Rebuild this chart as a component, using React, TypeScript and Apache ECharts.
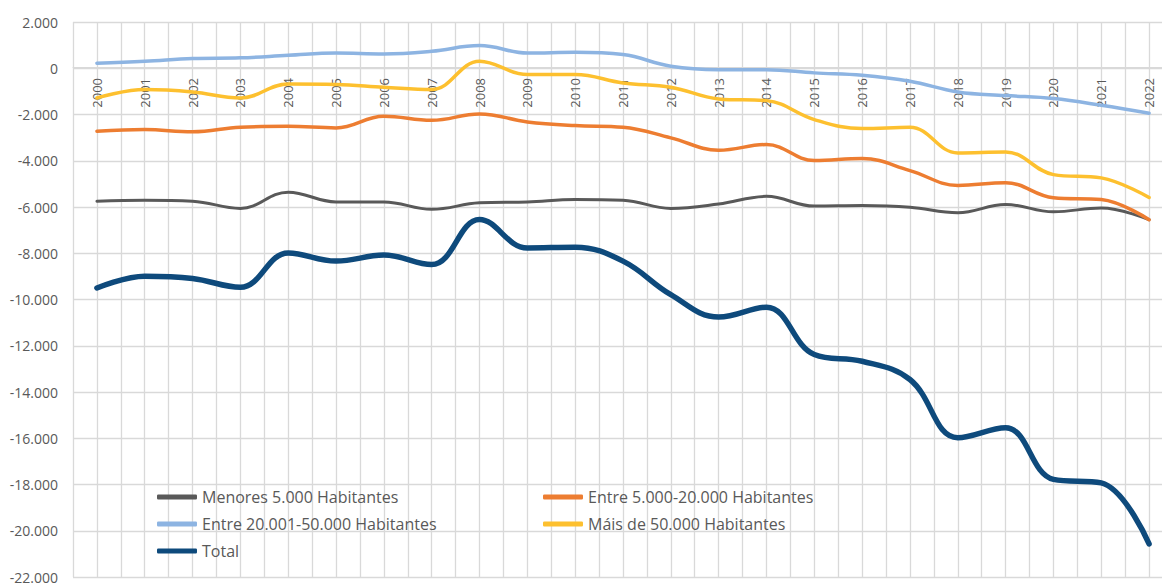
import React, { useEffect, useRef } from "react";
import * as echarts from "echarts";

const years = [
  "2000", "2001", "2002", "2003", "2004", "2005", "2006", "2007", "2008", "2009", "2010", "2011",
  "2012", "2013", "2014", "2015", "2016", "2017", "2018", "2019", "2020", "2021", "2022",
];

const menores5000 = [
  -5750, -5710, -5750, -6060, -5360, -5780, -5780, -6100, -5820, -5780, -5680, -5710,
  -6060, -5870, -5540, -5960, -5940, -6010, -6250, -5890, -6210, -6040, -6550,
];
const entre5000_20000 = [
  -2725, -2650, -2750, -2550, -2510, -2580, -2075, -2250, -1975, -2320, -2480, -2550,
  -3010, -3545, -3300, -3990, -3905, -4425, -5070, -4950, -5600, -5680, -6550,
];
const entre20001_50000 = [
  220, 300, 420, 450, 560, 660, 620, 735, 980, 660, 690, 590,
  90, -60, -60, -200, -300, -560, -1025, -1180, -1310, -1600, -1945,
];
const mais50000 = [
  -1285, -920, -1025, -1285, -680, -700, -820, -920, 300, -270, -270, -635,
  -820, -1325, -1400, -2220, -2610, -2550, -3660, -3620, -4600, -4740, -5590,
];
const total = [
  -9500, -8990, -9090, -9470, -7985, -8340, -8080, -8490, -6540, -7770, -7740, -8340,
  -9790, -10760, -10330, -12380, -12670, -13460, -15980, -15550, -17780, -17930, -20570,
];

const seriesNames = [
  "Menores 5.000 Habitantes",
  "Entre 5.000-20.000 Habitantes",
  "Entre 20.001-50.000 Habitantes",
  "Máis de 50.000 Habitantes",
  "Total",
];
const seriesColors = ["#595959", "#ED7D31", "#8DB4E2", "#FDC02F", "#0E4A7C"];
const seriesWidths = [3, 3.5, 3.5, 3.5, 5.5];

// half-category gridline slots (vertical grid drawn every half year)
const gridSlots = years.flatMap(() => ["", ""]);

const FONT = "'Open Sans', 'Noto Sans', sans-serif";
const TXT = "#595959";
const GRID = "#D9D9D9";

export default function App() {
  const ref = useRef<HTMLDivElement>(null);

  useEffect(() => {
    if (!ref.current) return;
    const chart = echarts.init(ref.current, undefined, { renderer: "svg" });

    const values = [menores5000, entre5000_20000, entre20001_50000, mais50000, total];

    const legendItem = (i: number) => ({
      name: seriesNames[i],
      icon: "roundRect",
      itemStyle: { color: seriesColors[i] },
    });

    const legendCommon = {
      orient: "vertical",
      top: 484,
      itemWidth: 40,
      itemHeight: 5,
      itemGap: 11,
      textStyle: { color: TXT, fontSize: 16, fontFamily: FONT, lineHeight: 16 },
    };

    chart.setOption({
      animation: false,
      backgroundColor: "#ffffff",
      textStyle: { fontFamily: FONT },
      grid: {
        left: 73,
        top: 22,
        width: 1100,
        height: 555,
        containLabel: false,
        outerBoundsMode: "none",
      },
      legend: [
        { ...legendCommon, left: 152, data: [legendItem(0), legendItem(2), legendItem(4)] },
        { ...legendCommon, left: 538, data: [legendItem(1), legendItem(3)] },
      ],
      xAxis: [
        {
          type: "category",
          data: years,
          boundaryGap: true,
          position: "bottom",
          offset: -510,
          axisLine: { show: true, onZero: false, lineStyle: { color: GRID, width: 1 } },
          axisTick: { show: false },
          axisLabel: {
            rotate: 90,
            margin: 11,
            color: TXT,
            fontSize: 13,
            fontFamily: FONT,
            interval: 0,
          },
          splitLine: { show: false },
          z: 3,
        },
        {
          type: "category",
          data: gridSlots,
          boundaryGap: true,
          position: "bottom",
          axisLine: { show: false, onZero: false },
          axisTick: { show: false },
          axisLabel: { show: false },
          splitLine: { show: true, interval: 0, lineStyle: { color: GRID, width: 1.3 } },
        },
      ],
      yAxis: {
        type: "value",
        min: -22000,
        max: 2000,
        interval: 2000,
        axisLine: { show: false },
        axisTick: { show: false },
        axisLabel: {
          color: TXT,
          fontSize: 14,
          fontFamily: FONT,
          margin: 15,
          formatter: (v: number) => {
            const s = Math.abs(v).toString().replace(/\B(?=(\d{3})+(?!\d))/g, ".");
            return (v < 0 ? "-" : "") + s;
          },
        },
        splitLine: { show: true, lineStyle: { color: GRID, width: 1.3 } },
      },
      series: values.map((data, i) => ({
        name: seriesNames[i],
        type: "line",
        data,
        xAxisIndex: 0,
        smooth: 0.4,
        symbol: "none",
        showSymbol: false,
        lineStyle: { color: seriesColors[i], width: seriesWidths[i], cap: "round", join: "round" },
        itemStyle: { color: seriesColors[i] },
      })),
    });

    return () => chart.dispose();
  }, []);

  return (
    <div
      ref={ref}
      style={{ position: "absolute", left: 0, top: 0, width: 1162, height: 583, overflow: "hidden" }}
    />
  );
}
